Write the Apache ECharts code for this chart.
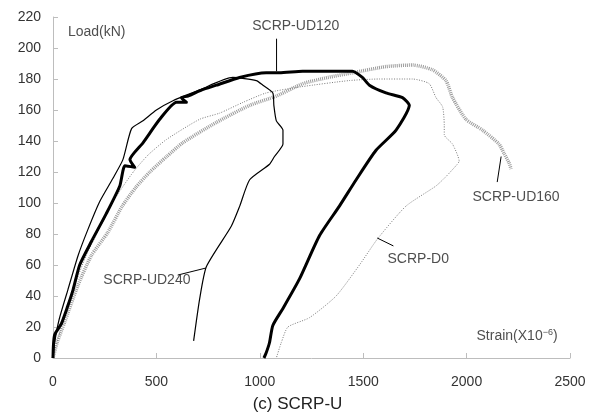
<!DOCTYPE html>
<html>
<head>
<meta charset="utf-8">
<script src="https://cdn.jsdelivr.net/npm/echarts@6/dist/echarts.min.js"></script>
<style>
  html, body { margin: 0; background: #fff; }
  #chart { width: 595px; height: 420px; }
</style>
</head>
<body>
<div id="chart"></div>
<script>
// strain (x10^-6), load (kN)
const ud120 = [[0,0],[2,8],[8,15],[40,22],[70,33],[97,44],[129,60],[185,75],[257,93],[323,111],[348,124],[395,123],[372,128],[436,139],[516,154],[597,165],[645,165],[620,168],[653,169],[720,173],[790,176],[902,181],[1031,184],[1095,184],[1207,185],[1330,185],[1448,185],[1496,181],[1530,176],[1610,171],[1690,168],[1723,163],[1659,147],[1562,134],[1466,115],[1385,98],[1289,79],[1192,51],[1112,32],[1063,21],[1047,10],[1030,3],[1020,0]];
const ud240 = [[0,0],[8,10],[30,25],[72,44],[121,66],[169,83],[226,101],[290,116],[338,128],[380,148],[435,153],[500,160],[580,166],[709,173],[869,181],[983,179],[1015,176],[1063,171],[1068,163],[1080,153],[1112,147],[1112,138],[1071,130],[1047,125],[951,115],[903,98],[862,85],[742,59],[709,38],[680,11]];
const ud160 = [[0,0],[20,10],[56,23],[121,47],[185,66],[265,81],[335,98],[400,110],[468,120],[550,130],[629,139],[790,152],[951,163],[1080,169],[1208,177],[1330,181],[1449,184],[1610,188],[1738,189],[1834,186],[1900,179],[1932,168],[1997,154],[2077,147],[2157,138],[2181,132],[2205,126],[2215,122]];
const d0 = [[0,0],[15,8],[45,22],[100,45],[160,66],[230,85],[300,103],[388,120],[460,131],[549,141],[709,154],[806,158],[920,165],[1031,171],[1200,175],[1433,179],[1578,180],[1738,180],[1819,177],[1852,168],[1884,162],[1892,150],[1892,144],[1932,138],[1964,127],[1955,125],[1900,117],[1852,111],[1707,98],[1570,77],[1482,60],[1369,40],[1240,26],[1136,20],[1104,10],[1080,0]];

// callout text and leader lines, in data coordinates
const noteTexts = ['SCRP-UD120', 'SCRP-UD240', 'SCRP-UD160', 'SCRP-D0'];
const notePos = [[1174, 214], [454, 50], [2239, 104], [1766, 64]];
const leaders = [
  [[1081, 206], [1081, 185]],
  [[603, 53.5], [738, 58]],
  [[2148, 113.5], [2167, 130]],
  [[1568, 77.4], [1646, 72.3]]
];
const xMax = 2500, xStep = 500;
const yMax = 220, yStep = 20;

const font = '"Liberation Sans", Arial, sans-serif';
const chart = echarts.init(document.getElementById('chart'));

const curve = (name, data, style) => ({
  name, type: 'line', data, symbol: 'none', smooth: 0.2,
  lineStyle: style, z: 2, silent: true
});

const leaderSeries = leaders.map((seg, i) => ({
  name: 'leader' + i, type: 'line', data: seg, symbol: 'none',
  lineStyle: { color: '#000', width: 1 }, z: 3, silent: true
}));

const noteData = noteTexts.map((t, i) => ({ value: notePos[i], name: t }));
noteData.push({
  value: [72, 210], name: 'Load(kN)',
  label: { align: 'left' }
});
noteData.push({
  value: [2244, 14], name: 'strain',
  label: { formatter: 'Strain(X10{sup|−6})' }
});

chart.setOption({
  animation: false,
  grid: { left: 53, right: 25, top: 17, bottom: 62 },
  title: {
    text: '(c) SCRP-U', left: 'center', top: 391,
    textStyle: { fontFamily: font, fontSize: 17, fontWeight: 'normal', color: '#222' }
  },
  xAxis: {
    type: 'value', min: 0, max: xMax, interval: xStep,
    splitLine: { show: false },
    axisLine: { lineStyle: { color: '#bdbdbd' } },
    axisTick: { inside: true, length: 5, lineStyle: { color: '#bdbdbd' } },
    axisLabel: { fontFamily: font, fontSize: 14, color: '#333', margin: 17, formatter: v => String(v) }
  },
  yAxis: {
    type: 'value', min: 0, max: yMax, interval: yStep,
    splitLine: { show: false },
    axisLine: { show: true, lineStyle: { color: '#bdbdbd' } },
    axisTick: { show: true, inside: true, length: 5, lineStyle: { color: '#bdbdbd' } },
    axisLabel: { fontFamily: font, fontSize: 14, color: '#333', margin: 12 }
  },
  series: [
    curve('SCRP-UD160', ud160, { color: '#9c9c9c', width: 3.5, type: [1, 1] }),
    curve('SCRP-D0', d0, { color: '#7a7a7a', width: 1, type: [1, 1.5] }),
    curve('SCRP-UD240', ud240, { color: '#000', width: 1.2 }),
    curve('SCRP-UD120', ud120, { color: '#000', width: 3, join: 'round' }),
    ...leaderSeries,
    {
      name: 'notes', type: 'scatter', data: noteData, symbolSize: 0, silent: true, z: 4,
      label: {
        show: true, position: 'inside', formatter: '{b}', align: 'center',
        fontFamily: font, fontSize: 14, color: '#222',
        rich: { sup: { fontFamily: font, fontSize: 9, color: '#222', verticalAlign: 'top', padding: [0, 0, 8, 0] } }
      }
    }
  ]
});
</script>
</body>
</html>
